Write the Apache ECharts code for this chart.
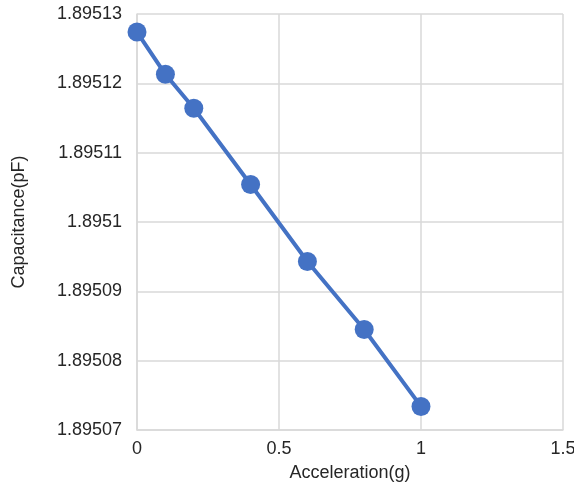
<!DOCTYPE html>
<html>
<head>
<meta charset="utf-8">
<script src="https://cdn.jsdelivr.net/npm/echarts@6/dist/echarts.min.js"></script>
<style>
	html, body { margin: 0; padding: 0; background: #fff; }
	#chart { width: 574px; height: 494px; }
</style>
</head>
<body>
<div id="chart"></div>
<script>
	// values
	const acceleration = [0, 0.1, 0.2, 0.4, 0.6, 0.8, 1]
	const capacitance = [1.8951274, 1.8951213, 1.8951164, 1.8951054, 1.8950943, 1.8950845, 1.8950734]

	const points = acceleration.map((x, i) => [x, capacitance[i]])

	const chart = echarts.init(document.getElementById('chart'))
	const font = 'Liberation Sans, Arial, sans-serif'
	const gridColor = '#d9d9d9'

	var option = {
		animation: false,
		grid: {
			left: 137,
			right: 11,
			top: 14,
			bottom: 64,
			outerBoundsMode: 'none'
		},
		xAxis: {
			type: 'value',
			min: 0,
			max: 1.5,
			interval: 0.5,
			name: 'Acceleration(g)',
			nameLocation: 'middle',
			nameGap: 34,
			nameTextStyle: { fontSize: 18, color: '#262626', fontFamily: font },
			axisLine: { show: true, lineStyle: { color: gridColor, width: 1.5 } },
			axisTick: { show: false },
			splitLine: { show: true, lineStyle: { color: gridColor, width: 1.5 } },
			axisLabel: { fontSize: 18, color: '#262626', fontFamily: font, margin: 10 }
		},
		yAxis: {
			type: 'value',
			min: 1.89507,
			max: 1.89513,
			interval: 0.00001,
			name: 'Capacitance(pF)',
			nameLocation: 'middle',
			nameGap: 109,
			nameTextStyle: { fontSize: 18, color: '#262626', fontFamily: font },
			axisLine: { show: true, lineStyle: { color: gridColor, width: 1.5 } },
			axisTick: { show: false },
			splitLine: { show: true, lineStyle: { color: gridColor, width: 1.5 } },
			axisLabel: {
				fontSize: 18,
				color: '#262626',
				fontFamily: font,
				margin: 15,
				formatter: v => String(parseFloat(v.toFixed(5)))
			}
		},
		series: [
			{
				type: 'line',
				data: points,
				symbol: 'circle',
				symbolSize: 19,
				itemStyle: { color: '#4472C4' },
				lineStyle: { color: '#4472C4', width: 4 }
			}
		]
	}
	chart.setOption(option)
</script>
</body>
</html>
